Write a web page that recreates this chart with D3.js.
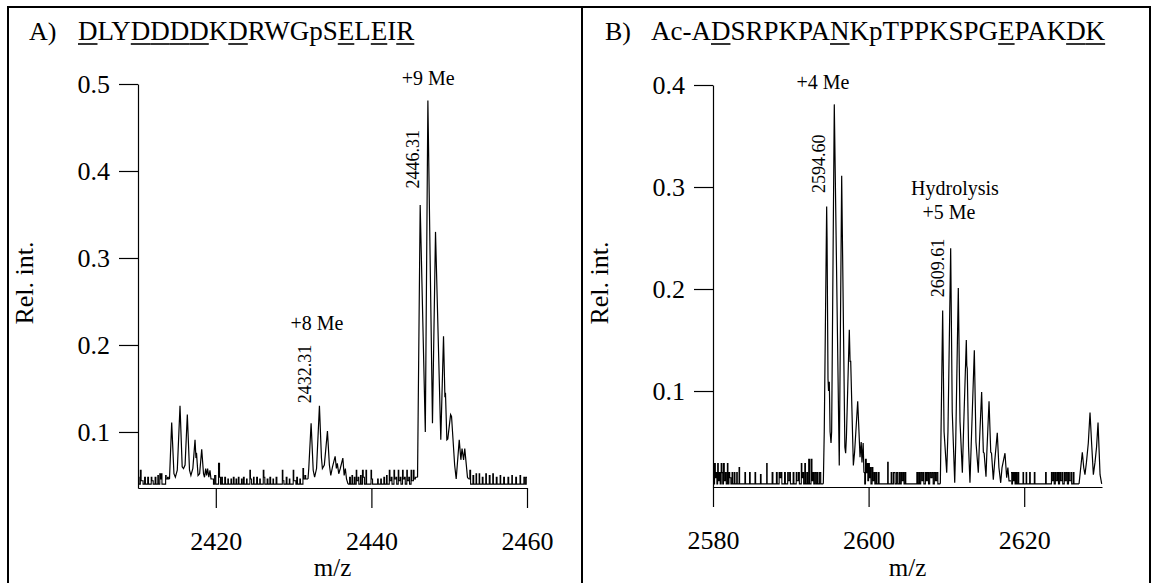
<!DOCTYPE html>
<html>
<head>
<meta charset="utf-8">
<script src="https://cdn.jsdelivr.net/npm/d3@7"></script>
<style>
body { margin: 0; background: #fff; }
svg text { font-family: 'Liberation Serif', 'Times New Roman', serif; fill: #000; }
</style>
</head>
<body>
<svg id="chart" width="1152" height="583"></svg>
<script>
// ---------- panel A : DLYDDDDKDRWGpSELEIR ----------
var seqA = "DLYDDDDKDRWGpSELEIR";
var underlineA = [0, 3, 4, 5, 6, 8, 14, 16, 18];
var xTicksA = [2420, 2440, 2460];
var yTicksA = [0.1, 0.2, 0.3, 0.4, 0.5];
var xDomainA = [2410, 2460];
var yDomainA = [0.0356, 0.5];

// baseline noise, drawn as steps
var noiseA1 = [[2410.00,0.048],[2410.12,0.040],[2410.30,0.056],[2410.40,0.044],[2410.65,0.040],[2410.85,0.048],[2410.95,0.040],[2411.25,0.048],[2411.35,0.040],[2411.70,0.048],[2411.78,0.044],[2411.95,0.040],[2412.20,0.048],[2412.30,0.040],[2412.55,0.050],[2412.62,0.040],[2412.80,0.052],[2412.88,0.046],[2413.00,0.052],[2413.08,0.040],[2413.55,0.050],[2413.62,0.046],[2413.80,0.048],[2413.90,0.046],[2414.05,0.046]];
var noiseA2 = [[2419.50,0.046],[2419.70,0.040],[2419.85,0.050],[2420.00,0.040],[2420.35,0.064],[2420.48,0.048],[2420.60,0.040],[2420.75,0.048],[2420.85,0.040],[2421.15,0.048],[2421.25,0.040],[2421.55,0.046],[2421.62,0.040],[2421.95,0.046],[2422.02,0.040],[2422.25,0.048],[2422.35,0.040],[2422.60,0.046],[2422.68,0.040],[2422.90,0.048],[2422.98,0.040],[2423.30,0.046],[2423.38,0.040],[2423.55,0.048],[2423.65,0.040],[2423.95,0.046],[2424.02,0.040],[2424.38,0.056],[2424.45,0.046],[2424.60,0.040],[2424.85,0.048],[2424.92,0.040],[2425.25,0.048],[2425.35,0.040],[2425.65,0.046],[2425.72,0.040],[2426.10,0.056],[2426.18,0.048],[2426.30,0.040],[2426.60,0.046],[2426.70,0.040],[2426.95,0.048],[2427.05,0.040],[2427.35,0.046],[2427.42,0.040],[2427.75,0.048],[2427.85,0.040],[2428.55,0.056],[2428.62,0.044],[2428.75,0.040],[2429.05,0.048],[2429.15,0.040],[2429.45,0.046],[2429.52,0.040],[2429.95,0.056],[2430.02,0.044],[2430.30,0.040],[2430.40,0.048],[2430.50,0.040],[2430.80,0.046],[2430.88,0.040],[2431.20,0.058],[2431.28,0.046],[2431.45,0.050],[2431.55,0.046],[2431.85,0.046]];
var noiseA3 = [[2437.00,0.040],[2437.20,0.048],[2437.30,0.040],[2437.50,0.050],[2437.58,0.040],[2437.80,0.048],[2437.88,0.040],[2438.05,0.056],[2438.12,0.044],[2438.30,0.048],[2438.38,0.040],[2438.60,0.050],[2438.68,0.040],[2438.85,0.056],[2438.95,0.048],[2439.10,0.040],[2439.30,0.056],[2439.38,0.040],[2439.95,0.056],[2440.02,0.046],[2440.15,0.040],[2440.80,0.046],[2440.88,0.040],[2441.20,0.046],[2441.28,0.040],[2441.60,0.048],[2441.70,0.040],[2441.95,0.050],[2442.02,0.040],[2442.30,0.056],[2442.38,0.044],[2442.55,0.048],[2442.65,0.040],[2442.90,0.056],[2442.98,0.046],[2443.15,0.048],[2443.25,0.040],[2443.45,0.056],[2443.52,0.044],[2443.70,0.048],[2443.80,0.040],[2444.00,0.056],[2444.08,0.046],[2444.25,0.048],[2444.35,0.040],[2444.55,0.056],[2444.62,0.044],[2444.80,0.048],[2444.90,0.040],[2445.10,0.056],[2445.18,0.044],[2445.40,0.056],[2445.48,0.046],[2445.65,0.048],[2445.93,0.048]];
var noiseA4 = [[2452.50,0.046],[2452.65,0.056],[2452.75,0.040],[2453.05,0.050],[2453.15,0.040],[2453.45,0.052],[2453.52,0.040],[2453.85,0.052],[2453.92,0.040],[2454.25,0.048],[2454.35,0.040],[2454.70,0.052],[2454.78,0.040],[2455.15,0.050],[2455.25,0.040],[2455.60,0.052],[2455.68,0.040],[2456.05,0.048],[2456.15,0.040],[2456.55,0.050],[2456.62,0.040],[2457.00,0.048],[2457.10,0.040],[2457.55,0.048],[2457.65,0.040],[2458.05,0.050],[2458.12,0.040],[2458.55,0.048],[2458.65,0.040],[2459.10,0.050],[2459.18,0.040],[2459.60,0.048],[2459.75,0.040],[2459.90,0.048],[2460.00,0.048]];

// isotope clusters, drawn as straight segments
var peaksA1 = [[2414.05,0.046],[2414.33,0.111],[2414.62,0.052],[2414.80,0.048],[2415.05,0.056],[2415.40,0.130],[2415.68,0.060],[2415.85,0.058],[2416.05,0.062],[2416.34,0.120],[2416.62,0.056],[2416.80,0.050],[2417.05,0.058],[2417.33,0.091],[2417.45,0.070],[2417.52,0.076],[2417.72,0.050],[2417.92,0.052],[2418.19,0.080],[2418.42,0.052],[2418.55,0.048],[2418.70,0.058],[2418.82,0.050],[2418.95,0.058],[2419.10,0.048],[2419.25,0.056],[2419.38,0.046],[2419.50,0.046]];
var peaksA2 = [[2431.85,0.046],[2431.95,0.058],[2432.25,0.110],[2432.52,0.056],[2432.70,0.048],[2432.95,0.058],[2433.32,0.130],[2433.58,0.070],[2433.70,0.058],[2433.95,0.062],[2434.35,0.101],[2434.60,0.062],[2434.78,0.050],[2435.00,0.060],[2435.34,0.072],[2435.50,0.058],[2435.62,0.064],[2435.80,0.052],[2436.00,0.058],[2436.33,0.070],[2436.50,0.050],[2436.65,0.058],[2436.80,0.046],[2437.00,0.040]];
var peaksA3 = [[2445.93,0.048],[2446.27,0.361],[2446.93,0.100],[2447.26,0.481],[2447.85,0.110],[2448.24,0.330],[2448.92,0.091],[2449.27,0.210],[2449.45,0.140],[2449.52,0.145],[2449.70,0.091],[2449.82,0.092],[2450.18,0.120],[2450.30,0.118],[2450.70,0.062],[2450.90,0.046],[2451.29,0.091],[2451.50,0.068],[2451.65,0.081],[2451.85,0.068],[2452.00,0.081],[2452.20,0.062],[2452.35,0.048],[2452.50,0.046]];

var labelsA = [
  {text: "+9 Me", mz: 2447.3, v: 0.499, rot: false},
  {text: "2446.31", mz: 2446.14, v: 0.380, rot: true},
  {text: "+8 Me", mz: 2433.0, v: 0.217, rot: false},
  {text: "2432.31", mz: 2432.25, v: 0.133, rot: true}
];

// ---------- panel B : Ac-ADSRPKPANKpTPPKSPGEPAKDK ----------
var seqB = "Ac-ADSRPKPANKpTPPKSPGEPAKDK";
var underlineB = [4, 11, 21, 25, 26];
var xTicksB = [2580, 2600, 2620];
var yTicksB = [0.1, 0.2, 0.3, 0.4];
var xDomainB = [2580, 2630];
var yDomainB = [0.0059, 0.4];

var noiseB1 = [[2580.00,0.020],[2580.10,0.009],[2580.20,0.029],[2580.30,0.015],[2580.40,0.020],[2580.50,0.009],[2580.60,0.029],[2580.68,0.012],[2580.80,0.020],[2580.92,0.009],[2581.05,0.029],[2581.15,0.020],[2581.25,0.009],[2581.35,0.029],[2581.45,0.012],[2581.60,0.020],[2581.70,0.009],[2581.85,0.029],[2581.92,0.009],[2582.05,0.020],[2582.15,0.015],[2582.30,0.009],[2582.45,0.020],[2582.55,0.009],[2582.75,0.020],[2582.82,0.009],[2583.05,0.020],[2583.12,0.009],[2583.35,0.025],[2583.42,0.009],[2584.10,0.020],[2584.18,0.009],[2584.70,0.020],[2584.78,0.009],[2585.40,0.020],[2585.48,0.009],[2586.10,0.018],[2586.18,0.009],[2586.90,0.029],[2586.96,0.009],[2587.60,0.020],[2587.70,0.009],[2588.15,0.020],[2588.25,0.009],[2588.50,0.020],[2588.60,0.015],[2588.75,0.020],[2588.85,0.009],[2589.20,0.020],[2589.30,0.009],[2589.60,0.020],[2589.68,0.012],[2589.85,0.020],[2589.95,0.009],[2590.30,0.020],[2590.40,0.009],[2590.70,0.020],[2590.80,0.012],[2591.00,0.020],[2591.10,0.009],[2591.35,0.029],[2591.42,0.015],[2591.55,0.020],[2591.65,0.009],[2591.80,0.029],[2591.88,0.009],[2592.05,0.020],[2592.15,0.009],[2592.30,0.033],[2592.40,0.009],[2592.60,0.033],[2592.72,0.012],[2592.85,0.020],[2592.95,0.009],[2593.10,0.020],[2593.25,0.009],[2593.40,0.020],[2593.50,0.009],[2593.70,0.020],[2593.85,0.009],[2594.18,0.009]];
var noiseB2 = [[2599.40,0.020],[2599.50,0.009],[2599.60,0.033],[2599.70,0.020],[2599.80,0.029],[2599.90,0.012],[2600.00,0.029],[2600.10,0.015],[2600.20,0.025],[2600.30,0.009],[2600.45,0.025],[2600.55,0.012],[2600.70,0.020],[2600.80,0.009],[2600.95,0.020],[2601.05,0.009],[2601.25,0.020],[2601.35,0.009],[2602.45,0.030],[2602.52,0.009],[2602.90,0.020],[2603.00,0.009],[2603.20,0.020],[2603.40,0.009],[2603.60,0.020],[2603.75,0.009],[2603.95,0.020],[2604.05,0.009],[2604.20,0.020],[2604.30,0.012],[2604.45,0.020],[2604.55,0.009],[2604.70,0.020],[2604.78,0.009],[2606.20,0.020],[2606.30,0.009],[2606.45,0.020],[2606.55,0.009],[2606.70,0.020],[2606.85,0.012],[2607.00,0.020],[2607.10,0.009],[2607.30,0.020],[2607.42,0.012],[2607.55,0.020],[2607.70,0.009],[2607.85,0.020],[2608.00,0.015],[2608.15,0.020],[2608.30,0.009],[2608.45,0.020],[2608.60,0.012],[2608.75,0.020],[2608.90,0.009],[2609.22,0.009]];
var noiseB3 = [[2618.30,0.020],[2618.40,0.009],[2618.50,0.020],[2618.60,0.012],[2618.72,0.020],[2618.82,0.009],[2618.95,0.020],[2619.05,0.009],[2619.20,0.020],[2619.30,0.009],[2619.85,0.020],[2619.92,0.009],[2620.25,0.020],[2620.32,0.009],[2620.70,0.020],[2620.78,0.009],[2621.30,0.020],[2621.38,0.009],[2622.75,0.020],[2622.83,0.009],[2623.50,0.020],[2623.60,0.012],[2623.75,0.020],[2623.85,0.009],[2624.00,0.020],[2624.12,0.012],[2624.28,0.020],[2624.40,0.009],[2624.55,0.020],[2624.68,0.012],[2624.85,0.020],[2624.95,0.009],[2625.15,0.020],[2625.25,0.012],[2625.40,0.020],[2625.55,0.009],[2625.70,0.020],[2625.80,0.012],[2626.00,0.020],[2626.10,0.009],[2626.30,0.020],[2626.40,0.009],[2627.05,0.009]];

var peaksB1 = [[2594.18,0.009],[2594.30,0.060],[2594.61,0.281],[2594.66,0.250],[2594.78,0.112],[2594.85,0.100],[2594.95,0.109],[2595.05,0.060],[2595.17,0.049],[2595.25,0.060],[2595.59,0.381],[2596.23,0.027],[2596.54,0.311],[2596.95,0.045],[2597.05,0.039],[2597.15,0.055],[2597.52,0.160],[2597.62,0.129],[2597.70,0.129],[2598.04,0.027],[2598.20,0.040],[2598.60,0.090],[2598.90,0.035],[2599.05,0.050],[2599.15,0.030],[2599.30,0.049],[2599.40,0.020]];
var peaksB2 = [[2609.22,0.009],[2609.52,0.179],[2609.70,0.060],[2610.04,0.020],[2610.20,0.060],[2610.55,0.240],[2610.75,0.080],[2611.07,0.010],[2611.20,0.050],[2611.53,0.201],[2611.75,0.070],[2612.05,0.020],[2612.20,0.060],[2612.56,0.150],[2612.62,0.125],[2612.68,0.122],[2612.85,0.045],[2613.03,0.010],[2613.20,0.050],[2613.59,0.140],[2613.80,0.050],[2614.10,0.020],[2614.25,0.050],[2614.53,0.099],[2614.75,0.040],[2614.85,0.039],[2615.09,0.016],[2615.20,0.040],[2615.48,0.090],[2615.70,0.040],[2615.80,0.039],[2616.03,0.013],[2616.20,0.030],[2616.54,0.059],[2616.75,0.025],[2616.98,0.010],[2617.15,0.025],[2617.53,0.039],[2617.75,0.015],[2617.90,0.025],[2618.05,0.012],[2618.30,0.012]];
var peaksB3 = [[2627.05,0.009],[2627.20,0.020],[2627.47,0.040],[2627.65,0.025],[2627.81,0.018],[2628.00,0.030],[2628.24,0.049],[2628.46,0.079],[2628.67,0.048],[2628.89,0.018],[2629.10,0.030],[2629.30,0.045],[2629.49,0.069],[2629.75,0.018],[2629.96,0.009]];

var labelsB = [
  {text: "+4 Me", mz: 2594.14, v: 0.3956, rot: false},
  {text: "2594.60", mz: 2594.40, v: 0.294, rot: true},
  {text: "Hydrolysis", mz: 2611.1, v: 0.2926, rot: false},
  {text: "+5 Me", mz: 2610.33, v: 0.269, rot: false},
  {text: "2609.61", mz: 2609.69, v: 0.192, rot: true}
];

// ---------- drawing ----------
var svg = d3.select("#chart");

// frame round both panels
svg.append("rect")
  .attr("x", 8).attr("y", 7)
  .attr("width", 1142).attr("height", 620)
  .attr("fill", "none").attr("stroke", "#000").attr("stroke-width", 2);
svg.append("line")
  .attr("x1", 582).attr("x2", 582).attr("y1", 7).attr("y2", 583)
  .attr("stroke", "#000").attr("stroke-width", 2);

var panels = [
  {tag: "A)", seq: seqA, under: underlineA, tagX: 29, seqX: 78,
   xd: xDomainA, yd: yDomainA, xr: [138, 527], yr: [488, 84],
   xt: xTicksA, yt: yTicksA, yTitleX: 34,
   noise: [noiseA1, noiseA2, noiseA3, noiseA4], peaks: [peaksA1, peaksA2, peaksA3], labels: labelsA},
  {tag: "B)", seq: seqB, under: underlineB, tagX: 605, seqX: 651,
   xd: xDomainB, yd: yDomainB, xr: [713, 1102], yr: [487, 85],
   xt: xTicksB, yt: yTicksB, yTitleX: 609,
   noise: [noiseB1, noiseB2, noiseB3], peaks: [peaksB1, peaksB2, peaksB3], labels: labelsB}
];

panels.forEach(function(p) {
  var x = d3.scaleLinear().domain(p.xd).range(p.xr);
  var y = d3.scaleLinear().domain(p.yd).range(p.yr);
  var g = svg.append("g");

  // title with underlined residues
  g.append("text").attr("x", p.tagX).attr("y", 40).style("font-size", "26px").text(p.tag);
  var seqText = g.append("text").attr("x", p.seqX).attr("y", 40).style("font-size", "27px").text(p.seq);
  var node = seqText.node();
  p.under.forEach(function(i) {
    var a = node.getStartPositionOfChar(i).x;
    var b = node.getEndPositionOfChar(i).x;
    g.append("line")
      .attr("x1", a).attr("x2", b).attr("y1", 44).attr("y2", 44)
      .attr("stroke", "#000").attr("stroke-width", 1.6);
  });

  // axes
  var xAxis = d3.axisBottom(x).tickValues(p.xt).tickSize(20).tickSizeOuter(0).tickPadding(24).tickFormat(d3.format("d"));
  var yAxis = d3.axisLeft(y).tickValues(p.yt).tickSize(19).tickSizeOuter(0).tickPadding(9).tickFormat(d3.format(".1f"));

  var gx = g.append("g").attr("transform", "translate(0," + p.yr[0] + ")").call(xAxis);
  var gy = g.append("g").attr("transform", "translate(" + p.xr[0] + ",0)").call(yAxis);
  [gx, gy].forEach(function(ax) {
    ax.select(".domain").attr("stroke", "#000").attr("stroke-width", 1.2);
    ax.selectAll(".tick line").attr("stroke", "#000").attr("stroke-width", 1.2);
    ax.selectAll(".tick text")
      .attr("fill", "#000")
      .style("font-family", "'Liberation Serif','Times New Roman',serif")
      .style("font-size", "26px");
  });

  g.append("text")
    .attr("x", (p.xr[0] + p.xr[1]) / 2).attr("y", 576)
    .attr("text-anchor", "middle").style("font-size", "25px").text("m/z");
  g.append("text")
    .attr("transform", "translate(" + (p.yTitleX - 1) + ",283) rotate(-90)")
    .attr("text-anchor", "middle").style("font-size", "26px").text("Rel. int.");

  // spectrum
  var stepLine = d3.line().x(function(d) { return x(d[0]); }).y(function(d) { return y(d[1]); }).curve(d3.curveStepAfter);
  var peakLine = d3.line().x(function(d) { return x(d[0]); }).y(function(d) { return y(d[1]); });

  g.selectAll("path.noise").data(p.noise).enter().append("path")
    .attr("class", "noise").attr("d", stepLine)
    .attr("fill", "none").attr("stroke", "#000").attr("stroke-width", 1.1);
  g.selectAll("path.peak").data(p.peaks).enter().append("path")
    .attr("class", "peak").attr("d", peakLine)
    .attr("fill", "none").attr("stroke", "#000").attr("stroke-width", 1.2);

  // annotations
  p.labels.forEach(function(l) {
    if (l.rot) {
      g.append("text")
        .attr("transform", "translate(" + x(l.mz) + "," + y(l.v) + ") rotate(-90)")
        .style("font-size", "18px").text(l.text);
    } else {
      g.append("text")
        .attr("x", x(l.mz)).attr("y", y(l.v))
        .attr("text-anchor", "middle").style("font-size", "20px").text(l.text);
    }
  });
});
</script>
</body>
</html>
